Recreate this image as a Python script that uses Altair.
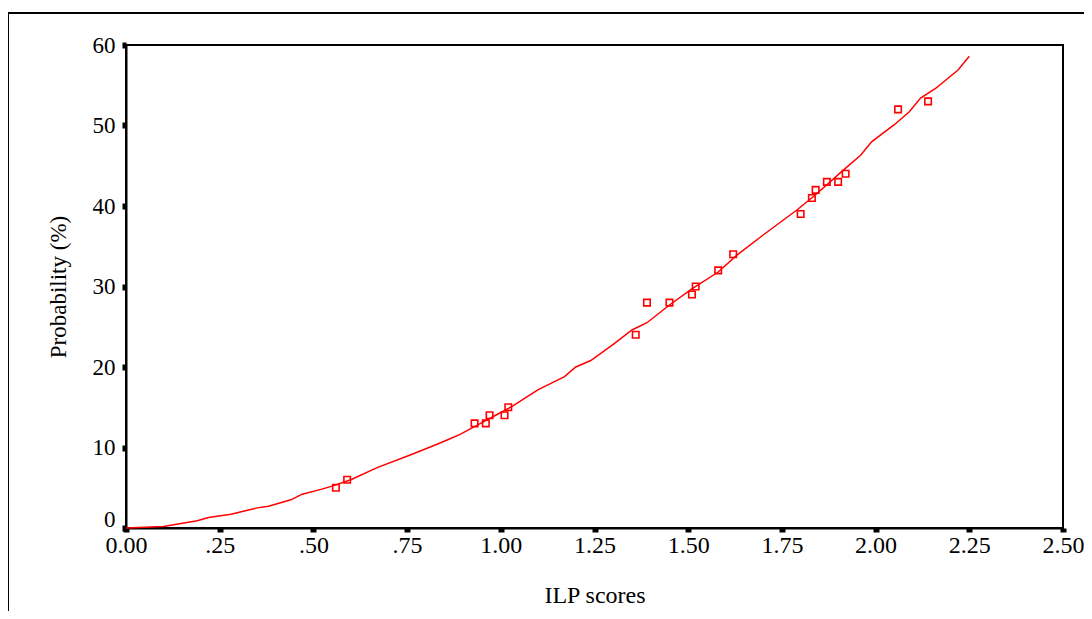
import altair as alt
import pandas as pd

# fitted curve
curve_x = [0.00, 0.10, 0.19, 0.22, 0.28, 0.35, 0.38, 0.44, 0.47, 0.52, 0.55, 0.60, 0.67,
           0.76, 0.83, 0.86, 0.89, 0.93, 0.99, 1.03, 1.05, 1.08, 1.10, 1.17, 1.20, 1.24,
           1.30, 1.35, 1.39, 1.45, 1.51, 1.58, 1.63, 1.70, 1.79, 1.84, 1.91, 1.96, 1.99,
           2.05, 2.09, 2.12, 2.16, 2.22, 2.25]
curve_y = [0.0, 0.2, 0.9, 1.3, 1.7, 2.5, 2.7, 3.5, 4.2, 4.8, 5.2, 6.0, 7.5,
           9.1, 10.4, 11.0, 11.6, 12.6, 14.1, 15.1, 15.7, 16.6, 17.2, 18.8, 20.0, 20.8,
           22.8, 24.6, 25.5, 27.7, 29.7, 31.8, 33.9, 36.4, 39.5, 41.4, 44.3, 46.3, 48.0,
           50.1, 51.7, 53.4, 54.6, 56.9, 58.6]

# observed points
pts_x = [0.56, 0.59, 0.93, 0.96, 0.97, 1.01, 1.02, 1.36, 1.39, 1.45, 1.51, 1.52, 1.58,
         1.62, 1.80, 1.83, 1.84, 1.87, 1.90, 1.92, 2.06, 2.14]
pts_y = [5, 6, 13, 13, 14, 14, 15, 24, 28, 28, 29, 30, 32,
         34, 39, 41, 42, 43, 43, 44, 52, 53]

x_ticks = [0, 0.25, 0.5, 0.75, 1.0, 1.25, 1.5, 1.75, 2.0, 2.25, 2.5]
y_ticks = [0, 10, 20, 30, 40, 50, 60]

curve_df = pd.DataFrame({"x": curve_x, "y": curve_y})
pts_df = pd.DataFrame({"x": pts_x, "y": pts_y})

FONT = "Liberation Serif"

x_enc = alt.X("x:Q",
              scale=alt.Scale(domain=[0, 2.5], nice=False, zero=False),
              axis=alt.Axis(title="ILP scores", values=x_ticks,
                            labelExpr="datum.value == 0 ? '0.00' : replace(format(datum.value, '.2f'), '0.', '.')",
                            labelFontSize=24, titleFontSize=24, labelPadding=1,
                            titlePadding=26, tickSize=4, tickWidth=6,
                            labelFlush=False))
y_enc = alt.Y("y:Q",
              scale=alt.Scale(domain=[0, 60], nice=False),
              axis=alt.Axis(title="Probability (%)", values=y_ticks, format="d",
                            labelFontSize=23, titleFontSize=23, labelPadding=7,
                            titlePadding=22, tickSize=4, tickWidth=6,
                            labelOffset={"condition": {"test": "datum.value == 0", "value": -9}, "value": 0}))

line = alt.Chart(curve_df).mark_line(color="#ff0000", strokeWidth=1.5).encode(x=x_enc, y=y_enc)
points = alt.Chart(pts_df).mark_point(shape="square", size=42, filled=False,
                                      color="#ff0000", strokeWidth=1.6, opacity=1).encode(x="x:Q", y="y:Q")

frame = alt.Chart(alt.Data(values=[{"a": 1}])).mark_rect(
    fill=None, stroke="black", strokeWidth=2, clip=False
).encode(x=alt.value(-118), x2=alt.value(3000), y=alt.value(-32), y2=alt.value(3000))

chart = alt.layer(frame, line, points).properties(
    width=937, height=483,
    autosize=alt.AutoSizeParams(type="none"),
    padding={"left": 118, "top": 37, "right": 21, "bottom": 83},
).configure_view(
    stroke="black", strokeWidth=2
).configure_axis(
    grid=False, domainColor="black", domainWidth=2, tickColor="black",
    labelColor="black", titleColor="black", labelFont=FONT, titleFont=FONT,
    titleFontWeight="normal"
)

chart.save("out.html", embed_options={"renderer": "svg", "actions": False})
